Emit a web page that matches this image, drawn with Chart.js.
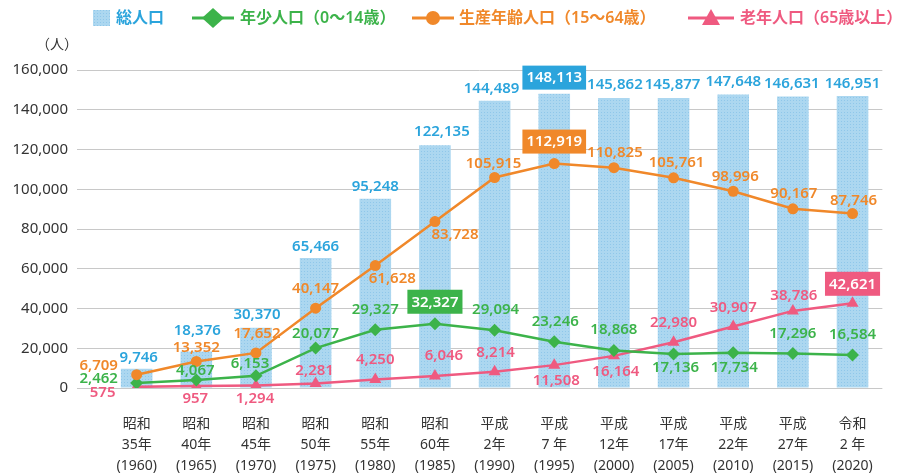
<!DOCTYPE html>
<html><head><meta charset="utf-8">
<script src="https://cdn.jsdelivr.net/npm/chart.js@4/dist/chart.umd.min.js"></script>
<style>html,body{margin:0;padding:0;background:#fff}#wrap{width:899px;height:475px}</style>
</head><body><div id="wrap"><canvas id="c" width="899" height="475"></canvas></div>
<script>
// ---- data ----
const eraNames   = ['昭和','昭和','昭和','昭和','昭和','昭和','平成','平成','平成','平成','平成','平成','令和'];
const eraYears   = ['35年','40年','45年','50年','55年','60年','2年','7 年','12年','17年','22年','27年','2 年'];
const westYears  = ['(1960)','(1965)','(1970)','(1975)','(1980)','(1985)','(1990)','(1995)','(2000)','(2005)','(2010)','(2015)','(2020)'];
const totalPop   = [9746,18376,30370,65466,95248,122135,144489,148113,145862,145877,147648,146631,146951];
const youngPop   = [2462,4067,6153,20077,29327,32327,29094,23246,18868,17136,17734,17296,16584];
const workPop    = [6709,13352,17652,40147,61628,83728,105915,112919,110825,105761,98996,90167,87746];
const elderPop   = [575,957,1294,2281,4250,6046,8214,11508,16164,22980,30907,38786,42621];
const seriesNames = ['総人口','年少人口（0～14歳）','生産年齢人口（15～64歳）','老年人口（65歳以上）'];
const yMax = 160000, yStep = 20000;

// ---- styles ----
const FONT = '"Noto Sans", "Noto Sans CJK JP", sans-serif';
const C_BLUE = '#2ba4dc', C_GREEN = '#3cb34a', C_ORANGE = '#f0882a', C_PINK = '#ef5a80';
// label offsets (dx, dy) relative to each mark
const offTotal = [[2,-11],[1,-20.5],[1,-13],[0,-11],[0,-12],[7,-14],[-3,-12.5],[0,-16],[1,-13],[-1,-13],[0,-13],[-1,-12.5],[0,-12]];
const offYoung = [[-38,-4],[-1,-9],[-6,-12],[0,-14],[0,-20],[0,-22],[1,-20],[1,-20],[0,-21],[2,14],[1,15],[0,-20],[0,-20]];
const offWork  = [[-38,-9],[0,-14],[1,-19.5],[0,-19],[17,13.5],[20,13.5],[-1,-13.5],[0,-22],[1,-15],[3,-15.5],[2,-14.5],[1,-15.5],[1,-13]];
const offElder = [[-34,6],[-1,13],[-1,13.5],[-1,-12.5],[0,-19.5],[9,-20],[1,-19],[2,16],[2,16],[0,-19.5],[0,-19],[1,-15.5],[0,-19.5]];
const boxedIndex = [7,5,7,12];

const canvas = document.getElementById('c');
const ctx = canvas.getContext('2d');
function makePattern(){
  const c = document.createElement('canvas'); c.width = 3; c.height = 3;
  const g = c.getContext('2d');
  g.fillStyle = '#acd7f0'; g.fillRect(0,0,3,3);
  g.fillStyle = '#8fc7ea'; g.fillRect(1,1,1,1);
  return ctx.createPattern(c,'repeat');
}
const barPattern = makePattern();
const toXY = arr => arr.map((v,i)=>({x:i,y:v}));
const fmt = v => v.toLocaleString('en-US');

const labelPlugin = {
  id:'valueLabels',
  afterDatasetsDraw(chart){
    const c = chart.ctx;
    const offs = [offTotal, offYoung, offWork, offElder];
    const cols = [C_BLUE, C_GREEN, C_ORANGE, C_PINK];
    c.save();
    c.font = '600 15px ' + FONT;
    c.textAlign = 'center'; c.textBaseline = 'middle';
    const boxes = [];
    chart.data.datasets.forEach((ds, d) => {
      const meta = chart.getDatasetMeta(d);
      meta.data.forEach((el, i) => {
        const txt = fmt(ds.data[i].y);
        const x = el.x + offs[d][i][0], y = el.y + offs[d][i][1];
        if (boxedIndex[d] === i) { boxes.push({txt,x,y,col:cols[d]}); return; }
        c.fillStyle = cols[d];
        c.fillText(txt, x, y);
      });
    });
    boxes.forEach(b => {
      const w = c.measureText(b.txt).width + 8, h = 24;
      c.fillStyle = b.col;
      c.fillRect(b.x - w/2, b.y - h/2, w, h);
      c.fillStyle = '#fff';
      c.fillText(b.txt, b.x, b.y + 0.5);
    });
    c.restore();
  }
};

const legendPlugin = {
  id:'customLegend',
  afterDraw(chart){
    const c = chart.ctx;
    c.save();
    const y = 18;
    c.font = '600 16px ' + FONT;
    c.textBaseline = 'middle'; c.textAlign = 'left';
    // 総人口
    c.fillStyle = barPattern; c.fillRect(93, 10, 17, 16);
    c.fillStyle = C_BLUE; c.fillText(seriesNames[0], 116, y);
    const items = [
      {x0:192, x1:234, col:C_GREEN, style:'diamond', tx:240, name:seriesNames[1]},
      {x0:412, x1:454, col:C_ORANGE, style:'circle', tx:459, name:seriesNames[2]},
      {x0:688, x1:734, col:C_PINK, style:'triangle', tx:740, name:seriesNames[3]}
    ];
    items.forEach(it => {
      c.strokeStyle = it.col; c.lineWidth = 3;
      c.beginPath(); c.moveTo(it.x0, y); c.lineTo(it.x1, y); c.stroke();
      const cx = (it.x0 + it.x1)/2;
      c.fillStyle = it.col; c.beginPath();
      if (it.style === 'diamond') { c.moveTo(cx, y-10); c.lineTo(cx+11, y); c.lineTo(cx, y+10); c.lineTo(cx-11, y); }
      else if (it.style === 'circle') { c.arc(cx, y, 7, 0, Math.PI*2); }
      else { c.moveTo(cx, y-9); c.lineTo(cx+9, y+7); c.lineTo(cx-9, y+7); }
      c.closePath(); c.fill();
      c.fillStyle = it.col; c.fillText(it.name, it.tx, y);
    });
    // unit
    c.font = '14px ' + FONT; c.fillStyle = '#333'; c.textAlign = 'center';
    c.fillText('（人）', 57, 45);
    c.restore();
  }
};

new Chart(canvas, {
  type:'bar',
  data:{ datasets:[
    {type:'bar', label:seriesNames[0], data:toXY(totalPop), backgroundColor:barPattern, borderWidth:0, barPercentage:0.53, categoryPercentage:1, order:10},
    {type:'line', label:seriesNames[1], data:toXY(youngPop), borderColor:C_GREEN, backgroundColor:C_GREEN, borderWidth:2.5, pointStyle:'rectRot', pointRadius:6.5, pointBorderWidth:0, tension:0, order:2},
    {type:'line', label:seriesNames[2], data:toXY(workPop), borderColor:C_ORANGE, backgroundColor:C_ORANGE, borderWidth:2.5, pointStyle:'circle', pointRadius:5.5, pointBorderWidth:0, tension:0, order:1},
    {type:'line', label:seriesNames[3], data:toXY(elderPop), borderColor:C_PINK, backgroundColor:C_PINK, borderWidth:2.5, pointStyle:'triangle', pointRadius:7, pointBorderWidth:0, tension:0, order:3}
  ]},
  options:{
    responsive:false, animation:false, devicePixelRatio:1,
    layout:{padding:{top:70, right:4, left:0, bottom:0}},
    plugins:{legend:{display:false}, tooltip:{enabled:false}},
    scales:{
      x:{type:'linear', min:-1, max:12.5, offset:false,
        grid:{display:false, drawTicks:false}, border:{display:false},
        afterBuildTicks: s => { s.ticks = eraNames.map((_,i)=>({value:i})); },
        afterFit: s => { s.height = 87; },
        ticks:{autoSkip:false, maxRotation:0, minRotation:0, padding:26, color:'#333',
          font:{family:FONT, size:14, lineHeight:1.5},
          callback: v => [eraNames[v], eraYears[v], westYears[v]]}
      },
      y:{min:0, max:yMax,
        grid:{color:'#c8c8c8', lineWidth:1, drawTicks:false}, border:{display:false},
        afterFit: s => { s.width = 77; },
        ticks:{stepSize:yStep, padding:9, color:'#333', font:{family:FONT, size:15}, callback: v => fmt(v)}
      }
    }
  },
  plugins:[labelPlugin, legendPlugin]
});
</script></body></html>
